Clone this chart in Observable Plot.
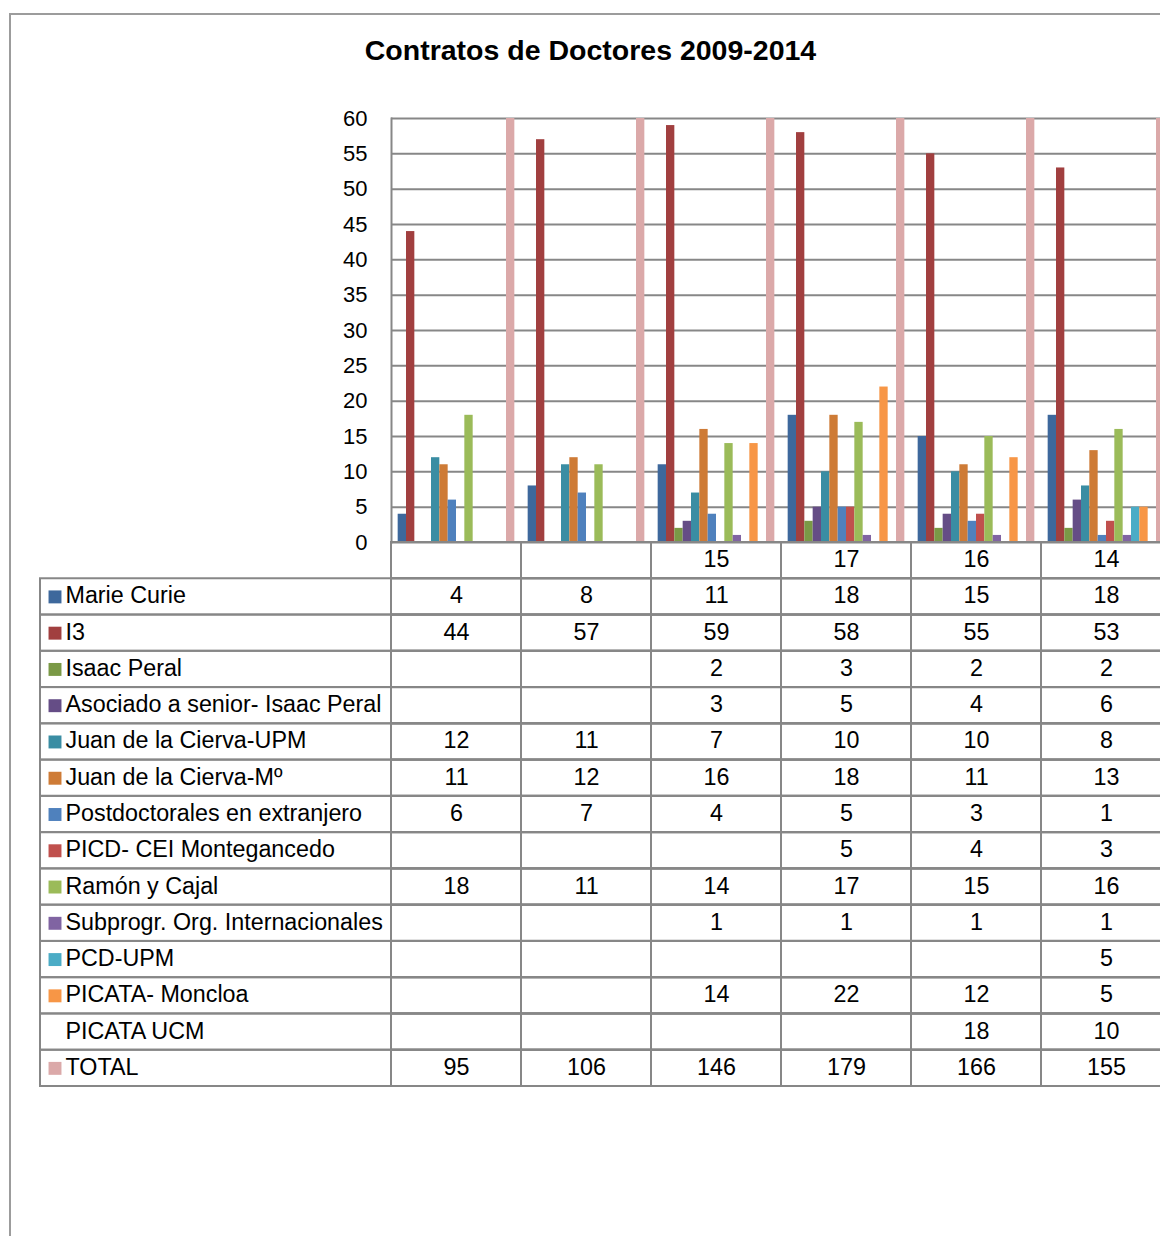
<!DOCTYPE html>
<html>
<head>
<meta charset="utf-8">
<script src="https://cdn.jsdelivr.net/npm/d3@7"></script>
<script src="https://cdn.jsdelivr.net/npm/@observablehq/plot@0.6"></script>
<style>
html, body { margin: 0; padding: 0; background: #fff; overflow: hidden; width: 1160px; height: 1236px; }
#wrap { position: relative; width: 1160px; height: 1236px; overflow: hidden; font-family: "Liberation Sans", Arial, sans-serif; }
#border { position: absolute; left: 9px; top: 13px; width: 1400px; height: 1400px; border: 2px solid #9c9c9c; box-sizing: border-box; }
#title { position: absolute; left: 0; top: 36px; width: 1181px; text-align: center; font-size: 28.5px; font-weight: bold; line-height: 28px; color: #000; white-space: nowrap; }
#chart { position: absolute; left: 0; top: 100px; }
#table { position: absolute; left: 0; top: 530px; }
</style>
</head>
<body>
<div id="wrap">
  <div id="border"></div>
  <div id="title">Contratos de Doctores 2009-2014</div>
  <div id="chart"></div>
  <div id="table"></div>
</div>
<script>
// ---- data ----
const groups = ["2009", "2010", "2011", "2012", "2013", "2014"];
const categoryLabels = ["", "", "15", "17", "16", "14"];
const series = [
  "Marie Curie", "I3", "Isaac Peral", "Asociado a senior- Isaac Peral",
  "Juan de la Cierva-UPM", "Juan de la Cierva-Mº", "Postdoctorales en extranjero",
  "PICD- CEI Montegancedo", "Ramón y Cajal", "Subprogr. Org. Internacionales",
  "PCD-UPM", "PICATA- Moncloa", "PICATA UCM", "TOTAL"
];
const marieCurie    = [4, 8, 11, 18, 15, 18];
const i3            = [44, 57, 59, 58, 55, 53];
const isaacPeral    = [null, null, 2, 3, 2, 2];
const asociado      = [null, null, 3, 5, 4, 6];
const jdlcUPM       = [12, 11, 7, 10, 10, 8];
const jdlcM         = [11, 12, 16, 18, 11, 13];
const postdoc       = [6, 7, 4, 5, 3, 1];
const picd          = [null, null, null, 5, 4, 3];
const ramonCajal    = [18, 11, 14, 17, 15, 16];
const subprogr      = [null, null, 1, 1, 1, 1];
const pcdUPM        = [null, null, null, null, null, 5];
const picataMoncloa = [null, null, 14, 22, 12, 5];
const picataUCM     = [null, null, null, null, 18, 10];
const total         = [95, 106, 146, 179, 166, 155];
const yTicks = [0, 5, 10, 15, 20, 25, 30, 35, 40, 45, 50, 55, 60];

const seriesValues = [marieCurie, i3, isaacPeral, asociado, jdlcUPM, jdlcM, postdoc,
  picd, ramonCajal, subprogr, pcdUPM, picataMoncloa, picataUCM, total];
const colors = ["#3D689C", "#A13F3F", "#7A9946", "#654D86", "#3A8DA3", "#CE7B36", "#4F81BD",
  "#C0504D", "#9BBB59", "#8064A2", "#4BACC6", "#F79646", "none", "#DBA9A9"];

// ---- derived tables ----
const bars = [];
series.forEach((s, j) => groups.forEach((g, i) => {
  const v = seriesValues[j][i];
  if (v != null) bars.push({group: g, series: s, value: v});
}));
const rowKeys = ["__header__", ...series];
const cells = [];
rowKeys.forEach((r, j) => groups.forEach((g, i) => {
  const v = j === 0 ? categoryLabels[i] : seriesValues[j - 1][i];
  cells.push({group: g, row: r, text: v == null ? "" : String(v)});
}));

const gridColor = "#878787";
const svgStyle = "background: transparent; max-width: none; overflow: visible; font-family: 'Liberation Sans', Arial, sans-serif; color: #000;";

// ---- chart ----
const chart = Plot.plot({
  width: 1180, height: 460,
  marginLeft: 391, marginRight: 9, marginTop: 18, marginBottom: 18,
  style: svgStyle,
  fx: {domain: groups, padding: 0, round: false, axis: null},
  x: {domain: series, paddingInner: 0, paddingOuter: 0.8, round: false, axis: null},
  y: {domain: [0, 60], clamp: true, axis: null},
  color: {domain: series, range: colors},
  marks: [
    Plot.gridY(yTicks, {stroke: gridColor, strokeOpacity: 1, strokeWidth: 2}),
    Plot.frame({anchor: "left", facetAnchor: "left", stroke: gridColor, strokeWidth: 2}),
    Plot.barY(bars, {fx: "group", x: "series", y: "value", fill: "series"}),
    Plot.axisY(yTicks, {tickSize: 0, tickPadding: 24, fontSize: 22, fill: "#000", label: null, facetAnchor: "left"})
  ]
});
document.getElementById("chart").appendChild(chart);

// ---- data table ----
const table = Plot.plot({
  width: 1180, height: 556,
  marginLeft: 40, marginRight: 9, marginTop: 12, marginBottom: 0,
  style: svgStyle,
  x: {domain: groups, range: [391, 1171], padding: 0, round: false, axis: null},
  y: {domain: rowKeys, padding: 0, round: false, axis: null},
  color: {domain: series, range: colors},
  marks: [
    Plot.cell(series, {y: d => d, fill: "none", stroke: gridColor, strokeWidth: 2}),
    Plot.cell(cells, {x: "group", y: "row", fill: "none", stroke: gridColor, strokeWidth: 2}),
    Plot.text(cells, {x: "group", y: "row", text: "text", fontSize: 23.3, fill: "#000", dy: -1}),
    Plot.dot(series, {y: d => d, frameAnchor: "left", dx: 14.5, symbol: "square", r: 7.3, fill: d => d, stroke: "none"}),
    Plot.text(series, {y: d => d, frameAnchor: "left", dx: 25, textAnchor: "start", text: d => d, fontSize: 23.3, fill: "#000", dy: -1})
  ]
});
document.getElementById("table").appendChild(table);
</script>
</body>
</html>
